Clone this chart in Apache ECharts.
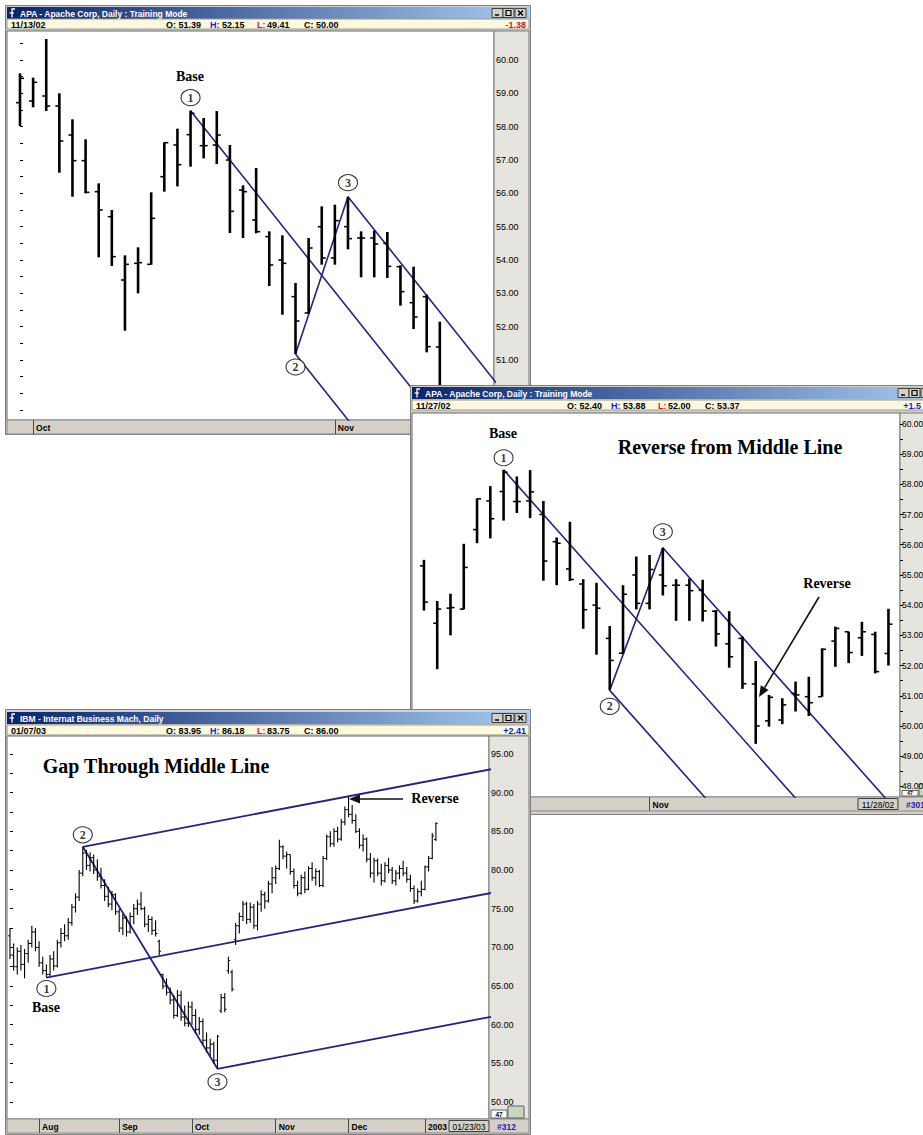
<!DOCTYPE html>
<html><head><meta charset="utf-8">
<script src="https://cdn.jsdelivr.net/npm/echarts@6/dist/echarts.min.js"></script>
<style>
html,body{margin:0;padding:0;width:923px;height:1135px;overflow:hidden;background:#fff;}
body{position:relative;}
.win{position:absolute;background:#d4d0c8;}
#w1{left:5px;top:5px;width:526px;height:430px;z-index:1}
#w2{left:410px;top:385px;width:527px;height:430px;z-index:2}
#w3{left:5px;top:709px;width:526px;height:426px;z-index:3}
</style></head><body>
<div id="w1" class="win"></div>
<div id="w2" class="win"></div>
<div id="w3" class="win"></div>
<script>
// ---------- APA (Apache Corp) daily, Sep 30 2002 .. Nov 27 2002 (index 0..42) ----------
const apaOpen  = [58.72,58.77,58.92,58.62,57.75,56.98,56.05,55.30,53.40,53.90,
                  53.87,56.50,57.45,57.76,57.43,57.45,57.00,56.10,55.20,54.70,
                  54.00,52.90,52.41,55.00,54.06,55.00,54.66,54.66,54.50,53.80,
                  52.72,52.90,51.39,50.17,50.20,51.08,50.97,50.97,52.81,53.12,
                  52.92,53.03,52.40];
const apaHigh  = [59.60,59.47,60.63,59.00,58.22,57.62,56.30,55.50,54.14,54.38,
                  56.03,57.53,57.94,58.48,58.26,58.47,57.45,56.24,56.76,54.86,
                  54.74,53.31,54.66,55.61,55.66,55.90,54.86,54.88,54.84,53.84,
                  53.80,52.96,52.15,51.03,50.92,51.47,51.63,52.57,53.29,53.12,
                  53.45,53.12,53.88];
const apaLow   = [58.02,58.58,58.47,56.62,55.90,56.00,54.08,53.82,51.88,53.00,
                  53.86,56.05,56.21,56.80,57.05,56.88,54.81,54.66,54.80,53.22,
                  52.36,51.18,52.39,53.86,53.86,54.32,53.48,53.48,53.46,52.63,
                  51.93,51.23,49.41,49.98,50.06,50.48,50.33,50.97,51.96,52.08,
                  52.32,51.74,52.00];
const apaClose = [59.45,59.33,58.62,57.57,56.98,56.03,55.50,54.10,53.87,53.92,
                  55.25,57.52,56.86,58.40,57.43,57.75,55.46,56.05,54.85,53.85,
                  53.90,52.17,54.36,54.06,55.18,54.64,54.66,54.48,53.81,53.05,
                  52.29,51.40,50.00,50.95,50.70,51.03,50.77,52.54,53.23,52.43,
                  53.12,51.80,53.37];
const apaMonthTicks = [1, 24];
const apaMonthNames = ['Oct', 'Nov'];
const apaPivotIdx = [13, 21, 25];          // 1 = high, 2 = low, 3 = high

// ---------- IBM daily, Jul 22 2002 .. Jan 7 2003 (index 0..117) ----------
const ibmOpen  = [71.5,69.0,67.5,69.5,67.8,69.2,70.5,72.0,70.0,68.0,
                  67.0,66.5,68.5,67.6,70.6,71.8,71.5,73.2,75.2,76.5,
                  79.6,82.2,80.6,81.6,80.0,79.2,78.0,76.6,75.6,76.8,
                  74.6,72.5,73.8,72.0,74.0,75.0,75.6,75.0,73.0,73.6,
                  72.2,70.8,66.5,65.0,64.2,63.2,61.2,63.8,61.0,60.2,
                  62.3,61.2,59.4,60.4,58.0,57.0,57.5,55.4,61.8,63.5,
                  67.0,66.8,71.0,72.8,74.0,75.6,73.6,75.2,72.8,75.6,
                  76.8,76.0,78.2,79.0,80.2,83.0,81.8,82.0,79.8,78.0,
                  77.0,79.0,77.5,80.2,79.0,79.8,78.0,81.5,84.3,83.4,
                  85.0,84.0,86.2,87.8,87.2,86.4,85.0,83.2,84.0,81.4,
                  79.6,81.2,79.6,78.6,80.6,80.0,78.6,79.6,80.2,79.6,
                  78.8,77.6,76.0,77.2,77.5,80.4,81.5,83.95];
const ibmHigh  = [72.5,70.5,70.0,70.3,69.8,71.0,72.8,72.5,70.8,68.8,
                  67.8,69.0,69.5,71.0,72.5,73.0,73.8,75.6,77.0,80.0,
                  83.0,82.6,82.3,82.0,81.4,80.3,78.8,77.8,77.3,77.0,
                  75.0,74.3,74.0,74.5,75.6,76.2,77.2,75.3,74.2,74.0,
                  73.5,71.0,66.6,66.0,64.8,63.8,64.5,64.4,62.5,63.0,
                  63.0,62.0,61.0,60.8,59.0,58.2,57.8,58.7,64.0,64.1,
                  68.8,67.1,73.2,74.5,76.0,75.9,75.8,75.6,76.0,77.4,
                  77.2,78.6,80.4,80.6,83.9,83.2,82.4,82.0,80.2,78.6,
                  79.4,79.8,80.5,81.0,80.2,80.0,81.8,84.6,85.0,85.4,
                  85.6,86.6,88.2,89.5,88.4,87.2,85.4,84.6,84.2,82.2,
                  81.6,81.5,80.8,81.0,81.6,80.4,80.0,80.6,81.2,80.4,
                  79.4,78.0,77.6,78.6,80.6,81.8,84.8,86.18];
const ibmLow   = [68.5,67.0,66.5,67.0,66.0,68.0,70.0,69.5,67.5,66.5,
                  66.1,66.3,67.0,67.4,70.0,70.8,71.0,72.8,74.5,76.0,
                  79.2,80.0,79.8,79.5,78.6,77.6,76.0,75.2,74.8,74.2,
                  72.0,71.6,71.4,71.8,73.0,74.2,74.8,72.6,72.0,71.6,
                  71.4,69.0,64.6,63.8,62.6,60.8,61.0,60.5,59.8,59.7,
                  60.0,58.8,58.7,57.5,56.4,56.0,55.0,54.3,61.5,61.6,
                  66.6,64.3,70.3,71.8,73.4,73.0,73.2,72.4,72.2,74.6,
                  75.0,75.8,77.0,78.2,80.0,81.4,80.2,79.4,77.6,76.6,
                  76.8,77.0,77.4,78.6,78.0,77.8,77.8,81.3,83.0,83.0,
                  83.6,83.8,85.8,86.8,86.0,84.8,82.8,82.4,81.0,79.0,
                  78.4,79.2,78.0,78.4,79.6,78.2,78.0,78.8,79.2,78.4,
                  77.2,75.6,75.8,76.6,77.4,79.8,81.4,83.75];
const ibmClose = [69.0,67.5,69.5,67.8,69.2,70.5,72.0,70.0,68.0,67.0,
                  66.5,68.5,67.6,70.6,71.8,71.5,73.2,75.2,76.5,79.6,
                  82.2,80.6,81.6,80.0,79.2,78.0,76.6,75.6,76.8,74.6,
                  72.5,73.8,72.0,74.0,75.0,75.6,75.0,73.0,73.6,72.2,
                  71.8,69.5,65.0,64.2,63.2,61.2,63.8,61.0,60.2,62.3,
                  61.2,59.4,60.4,58.0,57.0,57.5,55.4,58.5,63.5,62.0,
                  68.3,64.6,72.8,74.0,75.6,73.6,75.2,72.8,75.6,76.8,
                  76.0,78.2,79.0,80.2,83.0,81.8,82.0,79.8,78.0,77.0,
                  79.0,77.5,80.2,79.0,79.8,78.0,81.5,84.3,83.4,85.0,
                  84.0,86.2,87.8,87.2,86.4,85.0,83.2,84.0,81.4,79.6,
                  81.2,79.6,78.6,80.6,80.0,78.6,79.6,80.2,79.6,78.8,
                  77.6,76.0,77.2,77.5,80.4,81.5,84.4,86.00];
const ibmMonthTicks = [8, 30, 50, 73, 93, 114];
const ibmMonthNames = ['Aug', 'Sep', 'Oct', 'Nov', 'Dec', '2003'];
const ibmPivotIdx = [10, 20, 57];          // 1 = low, 2 = high, 3 = low

// ---------- axis tick labels ----------
const w1YLabels = [51,52,53,54,55,56,57,58,59,60];
const w1YTicks  = [49.5,50,50.5,51,51.5,52,52.5,53,53.5,54,54.5,55,55.5,56,56.5,57,57.5,58,58.5,59,59.5,60,60.5];
const w2YLabels = [48,49,50,51,52,53,54,55,56,57,58,59,60];
const w2YTicks  = [48,48.5,49,49.5,50,50.5,51,51.5,52,52.5,53,53.5,54,54.5,55,55.5,56,56.5,57,57.5,58,58.5,59,59.5,60];
const w3YLabels = [50,55,60,65,70,75,80,85,90,95];
const w3YTicks  = [50,52.5,55,57.5,60,62.5,65,67.5,70,72.5,75,77.5,80,82.5,85,87.5,90,92.5,95,97.5];

// ---------- helpers ----------
const FORK = '#24247c';
const SANS = '"Liberation Sans", Arial, sans-serif';
const SERIF = '"Liberation Serif", "Times New Roman", serif';

function ohlcData(o, h, l, c, from, to) {
  const d = [];
  for (let i = from; i <= to; i++) d.push([i, o[i], h[i], l[i], c[i]]);
  return d;
}
function ohlcSeries(data, lw, tick) {
  return {
    type: 'custom', data: data, clip: true, silent: true, z: 4,
    encode: { x: 0, y: [1, 2, 3, 4] },
    renderItem: function (params, api) {
      const x = api.value(0);
      const o = api.coord([x, api.value(1)]);
      const h = api.coord([x, api.value(2)]);
      const l = api.coord([x, api.value(3)]);
      const c = api.coord([x, api.value(4)]);
      const tw = Math.max(1, lw * 0.6);
      return { type: 'group', children: [
        { type: 'line', shape: { x1: h[0], y1: h[1], x2: l[0], y2: l[1] }, style: { stroke: '#000', lineWidth: lw } },
        { type: 'line', shape: { x1: o[0] - tick, y1: o[1], x2: o[0], y2: o[1] }, style: { stroke: '#000', lineWidth: tw } },
        { type: 'line', shape: { x1: c[0], y1: c[1], x2: c[0] + tick, y2: c[1] }, style: { stroke: '#000', lineWidth: tw } }
      ]};
    }
  };
}
// Andrews pitchfork from three pivots [[idx,val],...]
function forkSegments(p, xEnd) {
  const mx = (p[1][0] + p[2][0]) / 2, mv = (p[1][1] + p[2][1]) / 2;
  const m = (mv - p[0][1]) / (mx - p[0][0]);
  const ext = q => [[q[0], q[1]], [xEnd, q[1] + m * (xEnd - q[0])]];
  return [ext(p[0]), ext(p[1]), ext(p[2]), [p[1], p[2]]];
}
function forkSeries(p, xEnd, w) {
  return forkSegments(p, xEnd).map(seg => ({
    type: 'line', data: seg, symbol: 'none', clip: true, silent: true, z: 3,
    lineStyle: { color: FORK, width: w }
  }));
}
function pivotCircles(p, offsets) {
  return {
    type: 'scatter', silent: true, z: 6, clip: false,
    symbol: 'circle', symbolSize: [19, 16],
    itemStyle: { color: '#fff', borderColor: '#000', borderWidth: 1 },
    label: { show: true, position: 'inside', color: '#000', fontFamily: SERIF, fontWeight: 'bold', fontSize: 12 },
    data: p.map((q, k) => ({ value: q, symbolOffset: [0, offsets[k]], label: { formatter: String(k + 1) } }))
  };
}
function R(x, y, w, h, fill, stroke, lw) {
  return { type: 'rect', shape: { x: x, y: y, width: w, height: h }, style: { fill: fill || 'none', stroke: stroke || null, lineWidth: lw || 1 } };
}
function T(x, y, text, o) {
  o = o || {};
  return { type: 'text', x: x, y: y, z: o.z || 10, style: {
    text: text, fill: o.fill || '#000', fontSize: o.size || 9, fontWeight: o.weight || 'bold',
    fontFamily: o.family || SANS, align: o.align || 'left', verticalAlign: 'middle' } };
}
function L(x1, y1, x2, y2, stroke, lw) {
  return { type: 'line', shape: { x1: x1, y1: y1, x2: x2, y2: y2 }, style: { stroke: stroke, lineWidth: lw || 1 } };
}
function arrow(x1, y1, x2, y2) {
  const a = Math.atan2(y2 - y1, x2 - x1), len = 11, hw = 4.5;
  const bx = x2 - len * Math.cos(a), by = y2 - len * Math.sin(a);
  const px = -Math.sin(a) * hw, py = Math.cos(a) * hw;
  return [
    Object.assign(L(x1, y1, bx, by, '#111', 1.6), { z: 20 }),
    { type: 'polygon', z: 20, shape: { points: [[x2, y2], [bx + px, by + py], [bx - px, by - py]] }, style: { fill: '#111' } }
  ];
}
function chrome(c) {
  const W = c.W, els = [];
  const tt = c.tTop;
  els.push(R(0.5, 0.5, W - 1, c.H - 1, null, '#808080'));
  els.push({ type: 'rect', shape: { x: 2, y: tt, width: W - 4, height: 12 }, style: {
    fill: new echarts.graphic.LinearGradient(0, 0, 1, 0, [{ offset: 0, color: '#0a246a' }, { offset: 1, color: '#a6caf0' }]) } });
  els.push({ type: 'polyline', shape: { points: [[7, tt + 10.5], [7, tt + 2], [10, tt + 2]] }, style: { stroke: '#fff', lineWidth: 1.3, fill: null } });
  els.push(L(4.5, tt + 6, 9, tt + 6, '#fff', 1.2));
  els.push(T(15, tt + 6.5, c.title, { fill: '#fff', size: 8.5 }));
  [W - 39, W - 28, W - 16].forEach((bx, k) => {
    els.push(R(bx, tt + 1.5, 11, 9, '#d4d0c8', '#404040'));
    if (k === 0) els.push(L(bx + 3, tt + 8, bx + 7, tt + 8, '#000', 1.5));
    if (k === 1) els.push(R(bx + 3, tt + 3.5, 5, 5, null, '#000', 1.2));
    if (k === 2) { els.push(L(bx + 3, tt + 3.5, bx + 8, tt + 8.5, '#000', 1.4)); els.push(L(bx + 8, tt + 3.5, bx + 3, tt + 8.5, '#000', 1.4)); }
  });
  const it = c.iTop;
  els.push(R(2, it, W - 4, 10, '#fcf9de', '#9a9a9a'));
  els.push(T(6, it + 5.5, c.date));
  els.push(T(c.ox, it + 5.5, 'O: ' + c.o));
  els.push(T(c.ox + 44, it + 5.5, 'H:', { fill: '#1a1ad0' }));
  els.push(T(c.ox + 56, it + 5.5, c.h));
  els.push(T(c.ox + 91, it + 5.5, 'L:', { fill: '#d01a1a' }));
  els.push(T(c.ox + 101, it + 5.5, c.l));
  els.push(T(c.ox + 138, it + 5.5, 'C: ' + c.c));
  els.push(T(c.chgX || (W - 5), it + 5.5, c.chg, { fill: c.chgColor, align: 'right' }));
  // axis panel and bottom bar
  els.push(R(c.pr, c.pt, W - 2 - c.pr, c.pb - c.pt, '#e6e4de', '#7a7a7a'));
  els.push(R(2, c.pb, W - 4, 14, '#d4d0c8', '#8a8a8a'));
  if (c.box) {
    els.push(R(c.boxX, c.pb + 1.5, 40, 11, '#d4d0c8', '#404040'));
    els.push(T(c.boxX + 20, c.pb + 7.5, c.box, { align: 'center', size: 8.5, weight: 'normal' }));
    els.push(T(c.boxX + 48, c.pb + 7.5, c.count, { fill: '#2020c0', size: 8.5 }));
  }
  if (c.mini) {
    const mh = c.miniH || 8, ms = c.miniS || 6.5;
    els.push(R(c.pr + 2, c.pb - mh - 1, 16, mh, '#fff', '#606060'));
    els.push(T(c.pr + 10, c.pb - 1 - mh / 2, '47', { align: 'center', size: ms }));
    els.push(R(c.pr + 19, c.pb - 13, 16, 12, '#c8d8c0', '#606060'));
  }
  return els;
}
function buildOption(c) {
  return {
    animation: false,
    grid: { left: c.pl, top: c.pt, width: c.pr - c.pl, height: c.pb - c.pt, show: true, backgroundColor: '#fff', borderColor: '#6a6a6a', borderWidth: 1 },
    xAxis: { type: 'value', min: c.xMin, max: c.xMax, axisLine: { show: false }, splitLine: { show: false },
      axisTick: { show: true, customValues: c.mTicks, length: 14, lineStyle: { color: '#4a4a4a' } },
      axisLabel: { customValues: c.mTicks, formatter: v => c.mNames[c.mTicks.indexOf(v)], align: 'left', margin: 3,
        padding: [0, 0, 0, 3], fontSize: 8.5, fontWeight: 'bold', fontFamily: SANS, color: '#000' } },
    yAxis: { type: 'value', position: 'right', min: c.yMin, max: c.yMax, axisLine: { show: false }, splitLine: { show: false },
      axisTick: { show: true, customValues: c.yTicks, length: 3, lineStyle: { color: '#000' } },
      axisLabel: { customValues: c.yLabels, formatter: v => v.toFixed(2), margin: 2, fontSize: c.ySize || 9, fontFamily: SANS, color: '#000' } },
    graphic: { elements: chrome(c).concat(c.extra || []) },
    series: c.series
  };
}

// ---------- pivots ----------
const apaP = [[apaPivotIdx[0], apaHigh[apaPivotIdx[0]]], [apaPivotIdx[1], apaLow[apaPivotIdx[1]]], [apaPivotIdx[2], apaHigh[apaPivotIdx[2]]]];
const ibmP = [[ibmPivotIdx[0], ibmLow[ibmPivotIdx[0]]], [ibmPivotIdx[1], ibmHigh[ibmPivotIdx[1]]], [ibmPivotIdx[2], ibmLow[ibmPivotIdx[2]]]];

// ---------- Window 1 ----------
const c1 = {
  W: 526, H: 430, tTop: 2, iTop: 14, pl: 2, pt: 26, pr: 489, pb: 415,
  title: 'APA - Apache Corp, Daily : Training Mode', date: '11/13/02',
  ox: 161, o: '51.39', h: '52.15', l: '49.41', c: '50.00', chg: '-1.38', chgColor: '#d01a1a',
  xMin: -0.99, xMax: 36.13, yMin: 49.2, yMax: 60.87, yTicks: w1YTicks, yLabels: w1YLabels,
  mTicks: apaMonthTicks, mNames: apaMonthNames,
  series: [ohlcSeries(ohlcData(apaOpen, apaHigh, apaLow, apaClose, 0, 32), 2.6, 4)]
    .concat(forkSeries(apaP, 60, 1.6)).concat([pivotCircles(apaP, [-13, 13, -14])]),
  extra: [T(185, 71, 'Base', { family: SERIF, size: 14, z: 20, align: 'center' })]
};
// ---------- Window 2 ----------
const c2 = {
  W: 527, H: 430, tTop: 2, iTop: 15, pl: 2, pt: 28, pr: 490, pb: 412,
  title: 'APA - Apache Corp, Daily : Training Mode', date: '11/27/02',
  ox: 157, o: '52.40', h: '53.88', l: '52.00', c: '53.37', chg: '+1.5', chgColor: '#1a1ad0', chgX: 511,
  xMin: 6.1, xMax: 42.87, yMin: 47.65, yMax: 60.36, yTicks: w2YTicks, yLabels: w2YLabels, ySize: 8.5,
  mTicks: apaMonthTicks, mNames: apaMonthNames, box: '11/28/02', boxX: 448, count: '#301',
  mini: true, miniH: 5.5, miniS: 5,
  series: [ohlcSeries(ohlcData(apaOpen, apaHigh, apaLow, apaClose, 7, 42), 2.6, 4)]
    .concat(forkSeries(apaP, 70, 1.6)).concat([pivotCircles(apaP, [-12, 16, -16])]),
  extra: [
    T(93, 48, 'Base', { family: SERIF, size: 14, z: 20, align: 'center' }),
    T(320, 62, 'Reverse from Middle Line', { family: SERIF, size: 20, z: 20, align: 'center' }),
    T(417, 198, 'Reverse', { family: SERIF, size: 14, z: 20, align: 'center' })
  ].concat(arrow(409, 212, 349, 312))
};
// ---------- Window 3 ----------
const c3 = {
  W: 526, H: 426, tTop: 3, iTop: 16, pl: 2, pt: 27, pr: 484, pb: 410,
  title: 'IBM - Internat Business Mach, Daily', date: '01/07/03',
  ox: 161, o: '83.95', h: '86.18', l: '83.75', c: '86.00', chg: '+2.41', chgColor: '#1a1ad0',
  xMin: -0.82, xMax: 131.59, yMin: 47.81, yMax: 97.33, yTicks: w3YTicks, yLabels: w3YLabels,
  mTicks: ibmMonthTicks, mNames: ibmMonthNames, box: '01/23/03', boxX: 444, count: '#312', mini: true,
  series: [ohlcSeries(ohlcData(ibmOpen, ibmHigh, ibmLow, ibmClose, 0, 117), 1.1, 1.8)]
    .concat(forkSeries(ibmP, 200, 1.8)).concat([pivotCircles(ibmP, [11, -12, 13])]),
  extra: [
    T(151, 57, 'Gap Through Middle Line', { family: SERIF, size: 20, z: 20, align: 'center' }),
    T(41, 298, 'Base', { family: SERIF, size: 14, z: 20, align: 'center' }),
    T(430, 89, 'Reverse', { family: SERIF, size: 14, z: 20, align: 'center' })
  ].concat(arrow(398, 90, 344, 90))
};

[['w1', c1], ['w2', c2], ['w3', c3]].forEach(([id, cfg]) => {
  const ch = echarts.init(document.getElementById(id), null, { renderer: 'svg', width: cfg.W, height: cfg.H });
  ch.setOption(buildOption(cfg));
});
</script>
</body></html>
